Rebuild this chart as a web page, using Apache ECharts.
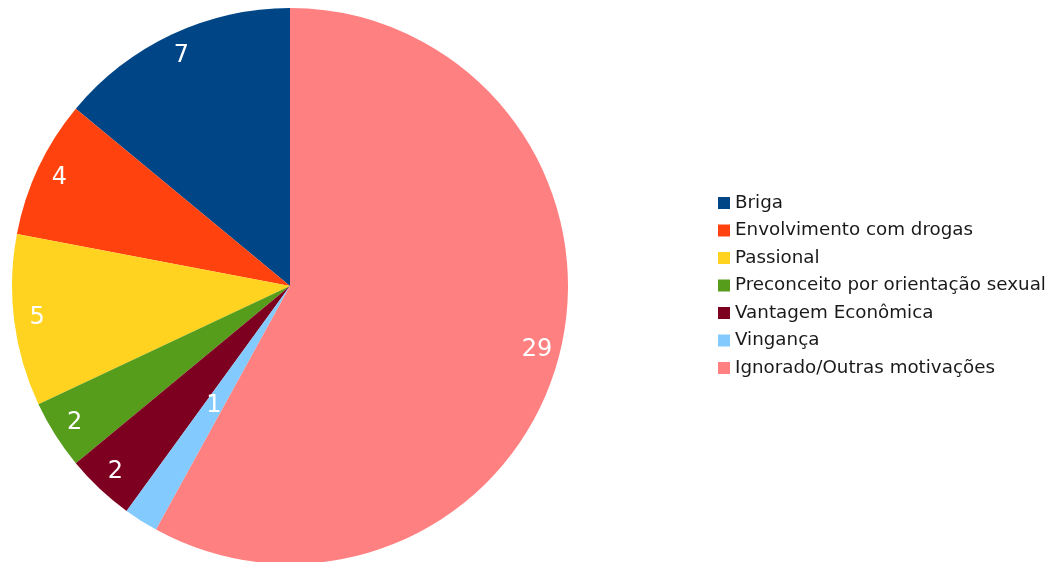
<!DOCTYPE html>
<html>
<head>
<meta charset="utf-8">
<script src="https://cdn.jsdelivr.net/npm/echarts@6/dist/echarts.min.js"></script>
<style>
  html, body { margin: 0; padding: 0; background: #ffffff; }
  #chart { width: 1054px; height: 562px; }
</style>
</head>
<body>
<div id="chart"></div>
<script>
// Motivações dos homicídios
const categories = [
  'Briga',
  'Envolvimento com drogas',
  'Passional',
  'Preconceito por orientação sexual',
  'Vantagem Econômica',
  'Vingança',
  'Ignorado/Outras motivações'
];
const values = [7, 4, 5, 2, 2, 1, 29];
const colors = ['#004586', '#ff420e', '#ffd320', '#579d1c', '#7e0021', '#83caff', '#ff8080'];
// slices whose value label sits near the middle of the radius instead of near the rim
const innerLabelled = ['Vingança'];

const center = [290, 286];
const outerR = 278;

const pieData = categories.map((name, i) => ({
  name,
  value: values[i],
  itemStyle: { color: colors[i] },
  label: { show: innerLabelled.includes(name) }
}));

// transparent ring on top of the pie, only used to place the rim labels
const ringData = categories.map((name, i) => ({
  name,
  value: values[i],
  label: { show: !innerLabelled.includes(name) }
}));

const labelStyle = {
  position: 'inside',
  formatter: '{c}',
  color: '#ffffff',
  fontFamily: 'DejaVu Sans',
  fontSize: 24
};

const chart = echarts.init(document.getElementById('chart'), null, { renderer: 'canvas' });
chart.setOption({
  backgroundColor: '#ffffff',
  animation: false,
  legend: {
    orient: 'vertical',
    left: 713,
    top: 188,
    data: categories,
    icon: 'rect',
    itemWidth: 12,
    itemHeight: 12,
    itemGap: 7.5,
    textStyle: {
      fontFamily: 'DejaVu Sans',
      fontSize: 18.3,
      lineHeight: 20,
      color: '#1a1a1a'
    }
  },
  series: [
    {
      type: 'pie',
      center: center,
      radius: [0, outerR],
      startAngle: 90,
      clockwise: false,
      silent: true,
      data: pieData,
      label: labelStyle,
      labelLine: { show: false }
    },
    {
      type: 'pie',
      center: center,
      radius: [226, outerR],
      startAngle: 90,
      clockwise: false,
      silent: true,
      data: ringData,
      itemStyle: { color: 'rgba(0,0,0,0)' },
      label: labelStyle,
      labelLine: { show: false }
    }
  ]
});
</script>
</body>
</html>
